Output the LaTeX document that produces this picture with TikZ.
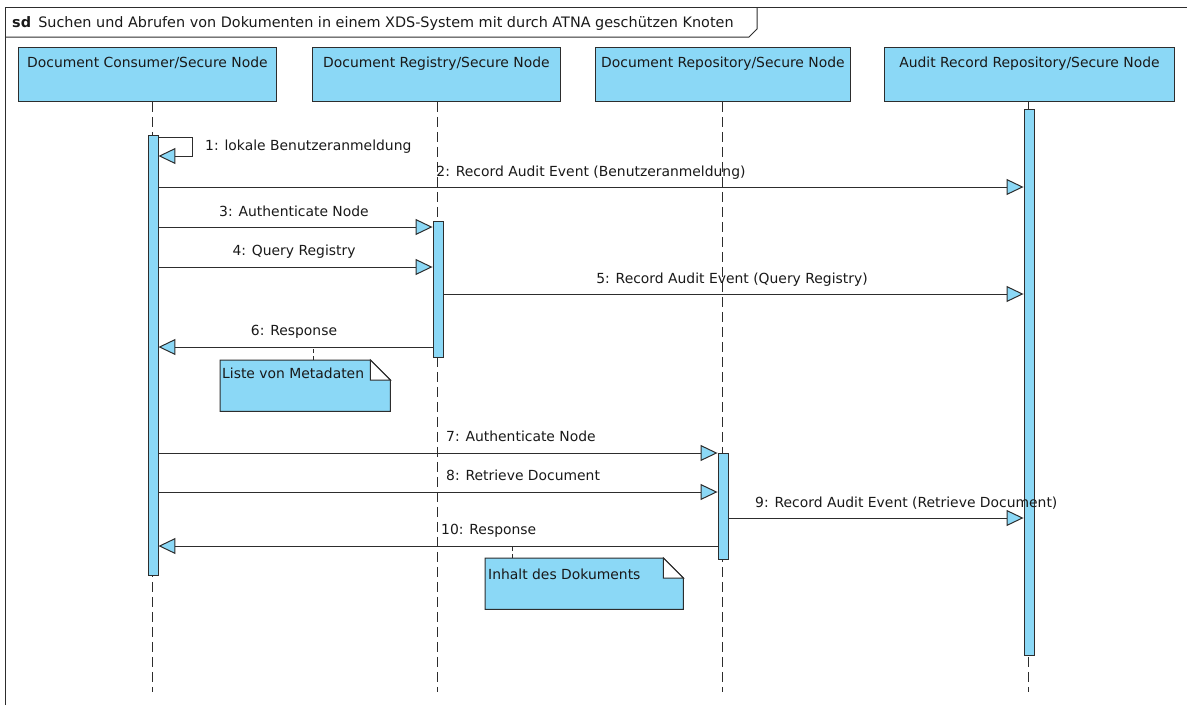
\documentclass[tikz,border=0pt]{standalone}
\usepackage{fontspec}
\setmainfont{DejaVu Sans}
\usetikzlibrary{arrows.meta,calc}
\definecolor{lb}{RGB}{139,216,246}
\definecolor{ln}{RGB}{45,45,45}

\begin{document}
\begin{tikzpicture}[x=1pt,y=-1pt,
  every node/.style={font=\fontsize{13.9}{16}\selectfont, inner sep=0pt, text=black!90},
  frame/.style={draw=ln, line width=1pt},
  head/.style={draw=ln, fill=lb, line width=0.9pt, anchor=north west,
    text height=20pt, text depth=34pt, align=center},
  lifeline/.style={draw=ln, line width=0.8pt, dash pattern=on 10pt off 5pt},
  actbar/.style={draw=ln, fill=lb, line width=0.9pt, minimum width=10pt, anchor=north},
  msg/.style={draw=ln, line width=1pt, line join=miter,
    -{Triangle[length=17pt,width=16pt,fill=lb,line width=1pt]}},
  msglabel/.style={anchor=base},
  notebox/.style={anchor=north west, minimum width=#1, minimum height=51pt},
  notefill/.style={draw=ln, fill=lb, line width=1pt},
  notelink/.style={draw=ln, line width=0.8pt, dash pattern=on 4pt off 3pt},
]
\useasboundingbox (0,0) rectangle (1187,705);

% diagram frame with its name tab
\draw[frame] (5,705) -- (5,7) -- (1187,7);
\draw[frame] (5,37) -- (749,37) -- (757,29) -- (757,7);
\node[anchor=base west, font=\fontsize{14.4}{16}\selectfont] (title) at (12,27)
  {\textbf{sd}\enspace Suchen und Abrufen von Dokumenten in einem XDS-System mit durch ATNA geschützen Knoten};

% participants
\node[head, minimum width=258pt] (hc) at (18,47) {Document Consumer/Secure Node};
\node[head, minimum width=248pt] (hr) at (312,47) {Document Registry/Secure Node};
\node[head, minimum width=255pt] (hp) at (595,47) {Document Repository/Secure Node};
\node[head, minimum width=290pt] (ha) at (884,47) {Audit Record Repository/Secure Node};

% lifelines
\coordinate (endc) at (152,692);
\coordinate (endr) at (437,692);
\coordinate (endp) at (722,692);
\coordinate (enda) at (1028,692);
\draw[lifeline] (hc.south -| endc) -- (endc);
\draw[lifeline] (hr.south -| endr) -- (endr);
\draw[lifeline] (hp.south -| endp) -- (endp);
\draw[lifeline] (ha.south -| enda) -- (enda);

% activation bars
\node[actbar, minimum height=440pt] (cbar) at (153,135) {};
\node[actbar, minimum height=136pt] (rbar) at (438,221) {};
\node[actbar, minimum height=106pt] (pbar) at (723,453) {};
\node[actbar, minimum height=546pt] (abar) at (1029,109) {};

% 1: self call
\draw[msg] (cbar.east |- 0,137) -- ++(34,0) -- ++(0,19) -- (cbar.east |- 0,156);
\node[anchor=base west] (l1) at (205,150) {1: lokale Benutzeranmeldung};

% 2
\draw[msg] (cbar.east |- 0,187) -- (abar.west |- 0,187);
\node[msglabel] (l2) at (591,176) {2: Record Audit Event (Benutzeranmeldung)};

% 3
\draw[msg] (cbar.east |- 0,227) -- (rbar.west |- 0,227);
\node[msglabel] (l3) at (294,216) {3: Authenticate Node};

% 4
\draw[msg] (cbar.east |- 0,267) -- (rbar.west |- 0,267);
\node[msglabel] (l4) at (294,255) {4: Query Registry};

% 5
\draw[msg] (rbar.east |- 0,294) -- (abar.west |- 0,294);
\node[msglabel] (l5) at (732,283) {5: Record Audit Event (Query Registry)};

% 6
\draw[msg] (rbar.west |- 0,347) -- (cbar.east |- 0,347);
\node[msglabel] (l6) at (294,335) {6: Response};

% note on 6
\node[notebox=170pt] (n1) at (220,360) {};
\draw[notefill] (n1.north west) -- ($(n1.north east)+(-20,0)$) -- ($(n1.north east)+(0,20)$)
  -- (n1.south east) -- (n1.south west) -- cycle;
\draw[draw=ln, fill=white, line width=1pt] ($(n1.north east)+(-20,0)$) -- ($(n1.north east)+(-20,20)$)
  -- ($(n1.north east)+(0,20)$) -- cycle;
\node[anchor=base west] (t1) at (222,378) {Liste von Metadaten};
\coordinate (a1) at (313,347);
\draw[notelink] (n1.north -| a1) -- (a1);

% 7
\draw[msg] (cbar.east |- 0,453) -- (pbar.west |- 0,453);
\node[anchor=base west] (l7) at (446,441) {7: Authenticate Node};

% 8
\draw[msg] (cbar.east |- 0,492) -- (pbar.west |- 0,492);
\node[anchor=base west] (l8) at (446,480) {8: Retrieve Document};

% 9
\draw[msg] (pbar.east |- 0,518) -- (abar.west |- 0,518);
\node[anchor=base west] (l9) at (755,507) {9: Record Audit Event (Retrieve Document)};

% 10
\draw[msg] (pbar.west |- 0,546) -- (cbar.east |- 0,546);
\node[anchor=base west] (l10) at (441,534) {10: Response};

% note on 10
\node[notebox=198pt] (n2) at (485,558) {};
\draw[notefill] (n2.north west) -- ($(n2.north east)+(-20,0)$) -- ($(n2.north east)+(0,20)$)
  -- (n2.south east) -- (n2.south west) -- cycle;
\draw[draw=ln, fill=white, line width=1pt] ($(n2.north east)+(-20,0)$) -- ($(n2.north east)+(-20,20)$)
  -- ($(n2.north east)+(0,20)$) -- cycle;
\node[anchor=base west] (t2) at (488,579) {Inhalt des Dokuments};
\coordinate (a2) at (512,546);
\draw[notelink] (n2.north -| a2) -- (a2);
\end{tikzpicture}
\end{document}
